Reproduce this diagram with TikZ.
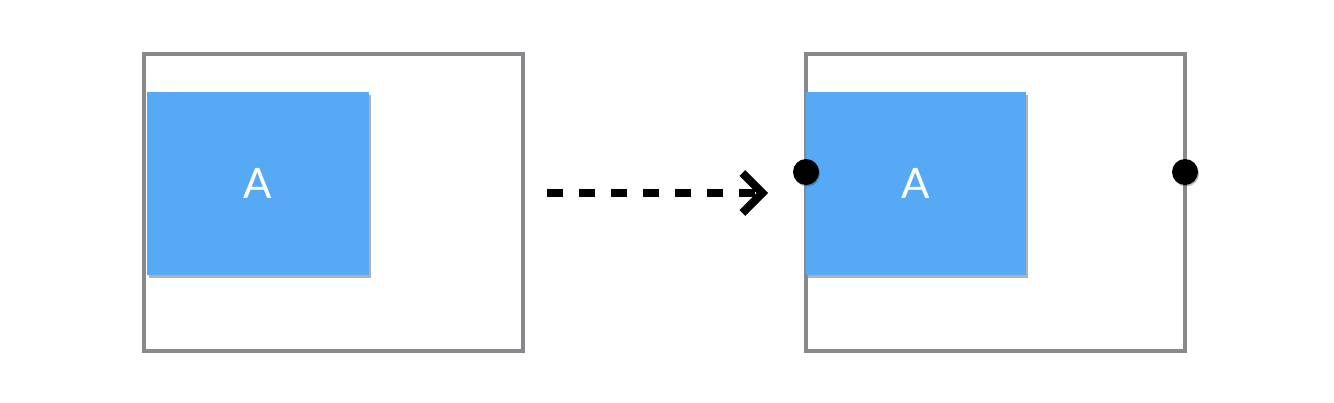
\documentclass[tikz,border=0pt]{standalone}
\usepackage{fontspec}
\setmainfont{Lato}
\usetikzlibrary{arrows.meta,shadows}
\definecolor{framegray}{HTML}{88898C}
\definecolor{boxblue}{HTML}{55A9F5}
\tikzset{
  frame/.style={draw=framegray, line width=4pt, fill=white, outer sep=0pt, inner sep=0pt,
    minimum width=379pt, minimum height=297pt, anchor=north west},
  bluebox/.style={fill=boxblue, draw=none, text=white, font=\fontsize{42}{50}\selectfont,
    outer sep=0pt, inner sep=0pt, minimum height=183pt, anchor=north west,
    drop shadow={shadow xshift=1.5pt, shadow yshift=-2.5pt, opacity=0.3, fill=black}},
  anchordot/.style={circle, fill=black, inner sep=0pt, minimum size=26pt,
    drop shadow={shadow xshift=1pt, shadow yshift=-1.5pt, opacity=0.25, fill=black}},
  moveline/.style={line width=8pt, dash pattern=on 16pt off 16pt,
    -{Straight Barb[length=20pt, width=40pt, line width=8pt]}}
}
\begin{document}
\begin{tikzpicture}[x=1pt, y=-1pt]
\useasboundingbox (0,0) rectangle (1334,402);
% left
\node[frame] (L) at (144,54) {};
\node[bluebox, minimum width=222pt] (LA) at (147,92) {A};
% right
\node[frame] (R) at (806,54) {};
\node[bluebox, minimum width=220pt] (RA) at (806,92) {A};
\node[anchordot] (D1) at (806,172) {};
\node[anchordot] (D2) at (1185,172) {};
% arrow
\coordinate (s) at (547,193);
\coordinate (e) at (768,193);
\draw[moveline] (s) -- (e);
\end{tikzpicture}
\end{document}
